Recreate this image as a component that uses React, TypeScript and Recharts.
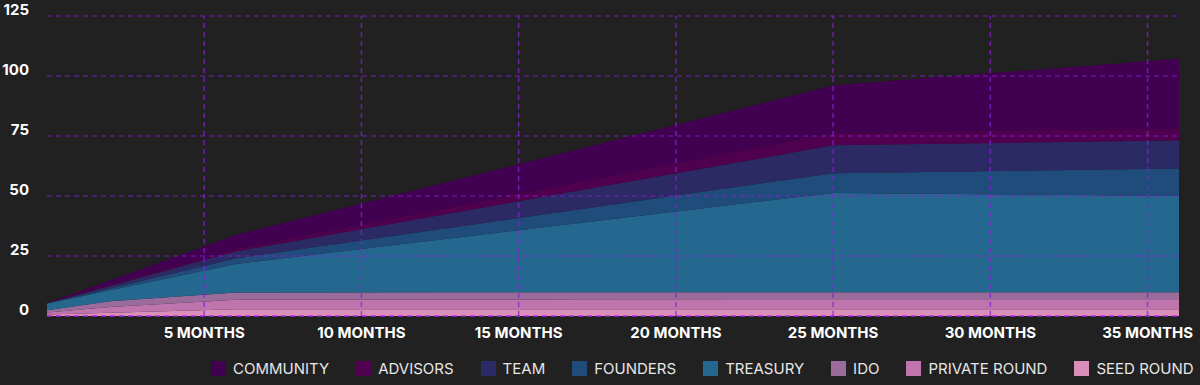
import { AreaChart, Area, XAxis, YAxis, ReferenceLine } from "recharts";

// months where the vesting curves change slope
const months = [0, 2, 6, 25, 36];

// token amounts per group (stacked bottom → top)
const seedRound = [0.6, 1.4, 2.8, 2.8, 2.8];
const privateRound = [0.9, 2.35, 4.0, 3.9, 3.9];
const ido = [0.9, 2.35, 3.0, 3.2, 3.2];
const treasury = [2.8, 4.6, 11.9, 41.4, 40.1];
const founders = [0.05, 0.8, 2.3, 8.2, 11.5];
const team = [0.05, 1.0, 2.9, 11.6, 11.7];
const advisors = [0.05, 0.4, 1.0, 5.2, 4.9];
const community = [0.05, 1.9, 5.9, 19.8, 29.1];

const yTicks = [0, 25, 50, 75, 100, 125];
const xTicks = [5, 10, 15, 20, 25, 30, 35];

const series = [
  { key: "seed", name: "SEED ROUND", color: "#d98fb9", values: seedRound },
  { key: "private", name: "PRIVATE ROUND", color: "#c074ae", values: privateRound },
  { key: "ido", name: "IDO", color: "#9a6b9b", values: ido },
  { key: "treasury", name: "TREASURY", color: "#24678f", values: treasury },
  { key: "founders", name: "FOUNDERS", color: "#1f4c7b", values: founders },
  { key: "team", name: "TEAM", color: "#2c2a64", values: team },
  { key: "advisors", name: "ADVISORS", color: "#4f004e", values: advisors },
  { key: "community", name: "COMMUNITY", color: "#420050", values: community },
];

const data = months.map((m, i) => {
  const row: Record<string, number> = { month: m };
  series.forEach((s) => {
    row[s.key] = s.values[i];
  });
  return row;
});

const FONT = "Inter, 'Open Sans', sans-serif";
const GRID = "#8a1fd6";

function YTick({ x, y, payload }: any) {
  return (
    <text
      x={x}
      y={y}
      dy={-1}
      textAnchor="end"
      fill="#ffffff"
      fontFamily={FONT}
      fontWeight={700}
      fontSize={15}
    >
      {payload.value}
    </text>
  );
}

function XTick({ x, y, payload }: any) {
  return (
    <text
      x={x}
      y={y}
      dy={14}
      textAnchor="middle"
      fill="#ffffff"
      fontFamily={FONT}
      fontWeight={700}
      fontSize={15}
    >
      {payload.value} MONTHS
    </text>
  );
}

export default function App() {
  const legendItems = [...series].reverse();
  return (
    <div
      style={{
        position: "absolute",
        top: 0,
        left: 0,
        width: 1200,
        height: 385,
        background: "#212121",
        overflow: "hidden",
      }}
    >
      <AreaChart
        width={1200}
        height={385}
        data={data}
        margin={{ top: 16, right: 21, left: 0, bottom: 39 }}
      >
        <XAxis
          dataKey="month"
          type="number"
          domain={[0, 36]}
          ticks={xTicks}
          axisLine={false}
          tickLine={false}
          height={30}
          tick={<XTick />}
        />
        <YAxis
          type="number"
          domain={[0, 125]}
          ticks={yTicks}
          axisLine={false}
          tickLine={false}
          width={47}
          tickMargin={12}
          tick={<YTick />}
        />
        {series.map((s) => (
          <Area
            key={s.key}
            type="linear"
            dataKey={s.key}
            name={s.name}
            stackId="1"
            stroke="none"
            fill={s.color}
            fillOpacity={1}
            isAnimationActive={false}
          />
        ))}
        {/* grid drawn as reference lines so it sits on top of the areas */}
        {yTicks.map((v) => (
          <ReferenceLine
            key={"h" + v}
            y={v}
            stroke={v === 0 ? "#b01fe8" : GRID}
            strokeOpacity={v === 0 ? 0.9 : 0.55}
            strokeWidth={1.3}
            strokeDasharray="5 4"
          />
        ))}
        {xTicks.map((v) => (
          <ReferenceLine
            key={"v" + v}
            x={v}
            stroke={GRID}
            strokeOpacity={0.75}
            strokeWidth={1.5}
            strokeDasharray="5 4"
          />
        ))}
      </AreaChart>
      <div
        style={{
          position: "absolute",
          top: 361,
          left: 211,
          display: "flex",
          alignItems: "center",
          fontFamily: FONT,
          fontSize: 15,
          color: "#e6e6e6",
          whiteSpace: "nowrap",
        }}
      >
        {legendItems.map((s, i) => (
          <div
            key={s.key}
            style={{
              display: "flex",
              alignItems: "center",
              marginLeft: i === 0 ? 0 : 27,
            }}
          >
            <span
              style={{
                width: 15,
                height: 15,
                background: s.color,
                display: "inline-block",
                marginRight: 7,
              }}
            />
            <span style={{ lineHeight: "15px" }}>{s.name}</span>
          </div>
        ))}
      </div>
    </div>
  );
}
